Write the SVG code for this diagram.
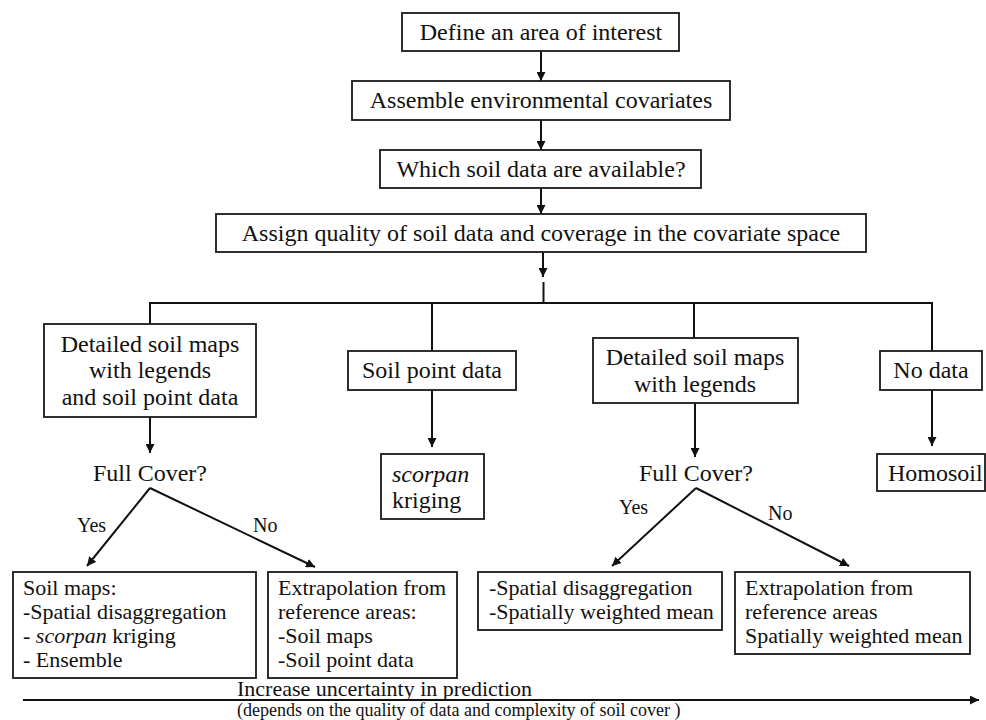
<svg xmlns="http://www.w3.org/2000/svg" width="986" height="720" viewBox="0 0 986 720">
<defs>
<style>
.box{fill:#fff;stroke:#1a1a1a;stroke-width:1.8}
.t{font-family:"Liberation Serif","Times New Roman",serif;font-size:24px;fill:#111}
.m{text-anchor:middle}
.s{font-family:"Liberation Serif","Times New Roman",serif;font-size:22px;fill:#111}
.lab{font-family:"Liberation Serif","Times New Roman",serif;font-size:20px;fill:#111}
.note{font-family:"Liberation Serif","Times New Roman",serif;font-size:18px;fill:#111}
.i{font-style:italic}
.c{fill:none;stroke:#111;stroke-width:2}
</style>
<marker id="ah" viewBox="0 0 10 10" refX="10" refY="5" markerWidth="9" markerHeight="9" markerUnits="userSpaceOnUse" orient="auto">
<path d="M0,0 L10,5 L0,10 Z" fill="#111"/>
</marker>
</defs>
<rect width="986" height="720" fill="#fff"/>

<g id="connectors">
<line class="c" x1="541" y1="51" x2="541" y2="81" marker-end="url(#ah)"/>
<line class="c" x1="541" y1="120" x2="541" y2="150" marker-end="url(#ah)"/>
<line class="c" x1="541" y1="188" x2="541" y2="214" marker-end="url(#ah)"/>
<line class="c" x1="543" y1="252" x2="543" y2="277" marker-end="url(#ah)"/>
<line class="c" x1="543.5" y1="282" x2="543.5" y2="303"/>
<polyline class="c" points="150,324 150,303 932,303 932,351"/>
<line class="c" x1="432" y1="303" x2="432" y2="351"/>
<line class="c" x1="694" y1="303" x2="694" y2="338"/>
<line class="c" x1="150" y1="417" x2="150" y2="453" marker-end="url(#ah)"/>
<line class="c" x1="432" y1="390" x2="432" y2="447" marker-end="url(#ah)"/>
<line class="c" x1="695" y1="403" x2="695" y2="457" marker-end="url(#ah)"/>
<line class="c" x1="932" y1="390" x2="932" y2="446" marker-end="url(#ah)"/>
<line class="c" x1="150" y1="488" x2="87" y2="566" marker-end="url(#ah)"/>
<line class="c" x1="150" y1="488" x2="315" y2="567" marker-end="url(#ah)"/>
<line class="c" x1="696" y1="488" x2="612" y2="566" marker-end="url(#ah)"/>
<line class="c" x1="696" y1="488" x2="849" y2="566" marker-end="url(#ah)"/>
<line class="c" x1="23" y1="700" x2="979" y2="700" marker-end="url(#ah)"/>
<text class="lab" x="77" y="532">Yes</text>
<text class="lab" x="253" y="532">No</text>
<text class="lab" x="619" y="514">Yes</text>
<text class="lab" x="768" y="520">No</text>
<text class="s" x="237" y="696">Increase uncertainty in prediction</text>
<text class="note" x="237" y="716">(depends on the quality of data and complexity of soil cover )</text>
</g>

<g id="n-define">
<rect class="box" x="402" y="13" width="277" height="38"/>
<text class="t m" x="541" y="40">Define an area of interest</text>
</g>
<g id="n-assemble">
<rect class="box" x="352" y="81" width="378" height="39"/>
<text class="t m" x="541" y="108">Assemble environmental covariates</text>
</g>
<g id="n-which">
<rect class="box" x="380" y="150" width="321" height="38"/>
<text class="t m" x="541" y="177">Which soil data are available?</text>
</g>
<g id="n-assign">
<rect class="box" x="216" y="214" width="650" height="38"/>
<text class="t m" x="541" y="241">Assign quality of soil data and coverage in the covariate space</text>
</g>

<g id="n-detailed-point">
<rect class="box" x="44" y="324" width="212" height="93"/>
<text class="t m" x="150" y="352">Detailed soil maps</text>
<text class="t m" x="150" y="378">with legends</text>
<text class="t m" x="150" y="405">and soil point data</text>
</g>
<g id="n-point">
<rect class="box" x="348" y="351" width="168" height="39"/>
<text class="t m" x="432" y="378">Soil point data</text>
</g>
<g id="n-detailed">
<rect class="box" x="593" y="338" width="205" height="65"/>
<text class="t m" x="695" y="365">Detailed soil maps</text>
<text class="t m" x="695" y="392">with legends</text>
</g>
<g id="n-nodata">
<rect class="box" x="880" y="351" width="102" height="39"/>
<text class="t m" x="931" y="378">No data</text>
</g>

<g id="n-full1">
<text class="t m" x="150" y="481">Full Cover?</text>
</g>
<g id="n-kriging">
<rect class="box" x="381" y="454" width="103" height="65"/>
<text class="t i" x="392" y="482">scorpan</text>
<text class="t" x="392" y="508">kriging</text>
</g>
<g id="n-full2">
<text class="t m" x="696" y="481">Full Cover?</text>
</g>
<g id="n-homosoil">
<rect class="box" x="877" y="454" width="108" height="37"/>
<text class="t" x="888" y="481">Homosoil</text>
</g>

<g id="n-out1">
<rect class="box" x="13" y="572" width="243" height="106"/>
<text class="s" x="23" y="595">Soil maps:</text>
<text class="s" x="23" y="619">-Spatial disaggregation</text>
<text class="s" x="23" y="643">- <tspan class="i">scorpan</tspan> kriging</text>
<text class="s" x="23" y="667">- Ensemble</text>
</g>
<g id="n-out2">
<rect class="box" x="268" y="572" width="189" height="106"/>
<text class="s" x="278" y="595">Extrapolation from</text>
<text class="s" x="278" y="619">reference areas:</text>
<text class="s" x="278" y="643">-Soil maps</text>
<text class="s" x="278" y="667">-Soil point data</text>
</g>
<g id="n-out3">
<rect class="box" x="478" y="572" width="244" height="58"/>
<text class="s" x="489" y="595">-Spatial disaggregation</text>
<text class="s" x="489" y="619">-Spatially weighted mean</text>
</g>
<g id="n-out4">
<rect class="box" x="735" y="572" width="235" height="82"/>
<text class="s" x="745" y="595">Extrapolation from</text>
<text class="s" x="745" y="619">reference areas</text>
<text class="s" x="745" y="643">Spatially weighted mean</text>
</g>
</svg>
